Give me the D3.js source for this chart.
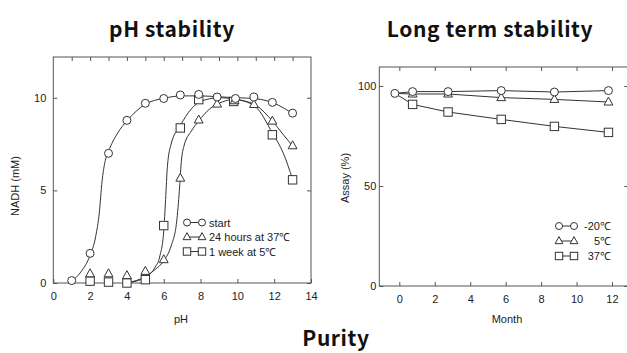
<!DOCTYPE html>
<html><head><meta charset="utf-8">
<script src="https://cdn.jsdelivr.net/npm/d3@7"></script>
<style>
body{margin:0;background:#fff;}
svg{display:block;}
.ax{font-family:"Liberation Sans",Arial,sans-serif;font-size:11px;fill:#222;}
.ttl{font-family:"Noto Sans CJK JP","Noto Sans",sans-serif;font-weight:bold;font-size:21px;letter-spacing:0.6px;fill:#111;}
</style></head>
<body>
<script>
// ---------- pH stability data ----------
const phStartX = [1, 2, 3, 4, 5, 6, 6.9, 7.9, 8.9, 9.9, 10.9, 11.9, 13];
const phStartY = [0.13, 1.6, 7.0, 8.78, 9.7, 9.96, 10.15, 10.18, 10.04, 9.96, 10.04, 9.75, 9.17];
const ph24hX = [2, 3, 4, 5, 6, 6.9, 7.9, 8.9, 9.85, 10.9, 11.9, 13];
const ph24hY = [0.5, 0.5, 0.4, 0.63, 1.26, 5.66, 8.8, 9.66, 9.84, 9.64, 8.74, 7.41];
const ph1wX = [2, 3, 4, 5, 6, 6.9, 7.9, 9.8, 11.9, 13];
const ph1wY = [0.1, 0.05, 0.0, 0.18, 3.1, 8.37, 9.9, 9.8, 8.0, 5.57];
// fitted curves as drawn in the picture
const curveStartX = [1, 1.5, 2, 2.3, 2.5, 2.65, 2.8, 3, 3.5, 4, 5, 6, 7, 8, 9, 10, 11, 12, 13];
const curveStartY = [0.1, 0.6, 1.5, 2.5, 3.8, 5.5, 6.5, 7.1, 8.1, 8.75, 9.65, 9.97, 10.1, 10.1, 10.05, 10.0, 9.95, 9.7, 9.15];
const curve24hX = [4, 5, 5.5, 6, 6.4, 6.7, 6.85, 6.95, 7.1, 7.5, 7.9, 8.5, 9, 9.8, 10.5, 11, 11.9, 12.5, 13];
const curve24hY = [0, 0.35, 0.7, 1.2, 2.0, 3.3, 5.0, 6.5, 7.4, 8.2, 8.75, 9.4, 9.7, 9.9, 9.8, 9.6, 8.75, 8.0, 7.4];
const curve1wX = [4, 4.5, 5, 5.5, 5.8, 6.0, 6.1, 6.2, 6.4, 6.9, 7.5, 8, 9, 10, 11, 11.9, 12.5, 13];
const curve1wY = [0, 0.1, 0.3, 0.8, 1.5, 2.8, 4.5, 6.3, 7.5, 8.5, 9.4, 9.8, 10.0, 9.9, 9.5, 8.1, 7.0, 5.6];
const phLegend = ["start", "24 hours at 37\u2103", "1 week at 5\u2103"];
const phXTicks = [0, 2, 4, 6, 8, 10, 12, 14];
const phYTicks = [0, 5, 10];

// ---------- Long term stability data ----------
const months = [-0.25, 0.75, 2.75, 5.75, 8.75, 11.8];
const assayM20 = [96.3, 97.2, 97.2, 97.7, 97.0, 97.7];
const assay5 = [96.3, 96.0, 96.0, 94.2, 93.3, 92.0];
const assay37 = [96.3, 90.8, 87.0, 83.3, 79.8, 76.8];
const ltLegend = ["-20\u2103", "5\u2103", "37\u2103"];
const ltXTicks = [0, 2, 4, 6, 8, 10, 12];
const ltYTicks = [0, 50, 100];

const titles = ["pH stability", "Long term stability", "Purity"];

const W = 627, H = 353;
const svg = d3.select("body").append("svg").attr("width", W).attr("height", H);
const lineCol = "#333", frameCol = "#555";

function marker(g, type, cx, cy, s) {
  if (type === "circle") {
    g.append("circle").attr("cx", cx).attr("cy", cy).attr("r", s)
      .attr("fill", "#fff").attr("stroke", lineCol).attr("stroke-width", 1);
  } else if (type === "square") {
    g.append("rect").attr("x", cx - s).attr("y", cy - s).attr("width", 2 * s).attr("height", 2 * s)
      .attr("fill", "#fff").attr("stroke", lineCol).attr("stroke-width", 1);
  } else {
    const h = s * 1.9;
    g.append("path").attr("d", `M${cx},${cy - h * 0.62}L${cx + s * 1.05},${cy + h * 0.38}L${cx - s * 1.05},${cy + h * 0.38}Z`)
      .attr("fill", "#fff").attr("stroke", lineCol).attr("stroke-width", 1);
  }
}

// ================= pH stability =================
{
  const x = d3.scaleLinear().domain([0, 14]).range([53.3, 311]);
  const y = d3.scaleLinear().domain([0, 12.2]).range([283, 57]);
  const g = svg.append("g");
  g.append("rect").attr("x", x(0)).attr("y", y(12.2)).attr("width", x(14) - x(0)).attr("height", y(0) - y(12.2))
    .attr("fill", "none").attr("stroke", frameCol).attr("stroke-width", 1);
  const bottom = d3.axisBottom(x).tickValues(phXTicks).tickSizeInner(-4).tickSizeOuter(0).tickPadding(9);
  const ab = g.append("g").attr("transform", `translate(0,${y(0)})`).call(bottom);
  const left = d3.axisLeft(y).tickValues(phYTicks).tickSizeInner(-4).tickSizeOuter(0).tickPadding(7);
  const al = g.append("g").attr("transform", `translate(${x(0)},0)`).call(left);
  const top = d3.axisTop(x).tickValues(d3.range(1, 14)).tickSizeInner(-4).tickSizeOuter(0).tickFormat("");
  const at = g.append("g").attr("transform", `translate(0,${y(12.2)})`).call(top);
  const right = d3.axisRight(y).tickValues(phYTicks).tickSizeInner(-4).tickSizeOuter(0).tickFormat("");
  const ar = g.append("g").attr("transform", `translate(${x(14)},0)`).call(right);
  [ab, al, at, ar].forEach(a => {
    a.select(".domain").remove();
    a.selectAll("line").attr("stroke", frameCol);
    a.selectAll("text").attr("class", "ax").attr("font-family", null).attr("font-size", null).attr("fill", "#222");
  });
  g.append("text").attr("class", "ax").attr("x", 181).attr("y", 323).attr("text-anchor", "middle").text("pH");
  g.append("text").attr("class", "ax").attr("transform", "translate(19,186) rotate(-90)").attr("text-anchor", "middle").text("NADH (mM)");

  const ln = d3.line().x(d => x(d[0])).y(d => y(d[1])).curve(d3.curveMonotoneX);
  const curves = [[curveStartX, curveStartY], [curve24hX, curve24hY], [curve1wX, curve1wY]];
  curves.forEach(([cx, cy]) => {
    g.append("path").attr("d", ln(cx.map((v, i) => [v, cy[i]])))
      .attr("fill", "none").attr("stroke", lineCol).attr("stroke-width", 1);
  });
  const ms = g.append("g");
  ph1wX.forEach((v, i) => marker(ms, "square", x(v), y(ph1wY[i]), 4.2));
  ph24hX.forEach((v, i) => marker(ms, "triangle", x(v), y(ph24hY[i]), 4.2));
  phStartX.forEach((v, i) => marker(ms, "circle", x(v), y(phStartY[i]), 4));

  const types = ["circle", "triangle", "square"];
  const lg = g.append("g");
  phLegend.forEach((t, i) => {
    const yy = 222.5 + i * 14.5;
    lg.append("line").attr("x1", 187).attr("x2", 202).attr("y1", yy).attr("y2", yy).attr("stroke", lineCol);
    marker(lg, types[i], 187, yy, types[i] === "circle" ? 3.5 : 3.7);
    marker(lg, types[i], 202, yy, types[i] === "circle" ? 3.5 : 3.7);
    lg.append("text").attr("class", "ax").attr("x", 209).attr("y", yy + 4).text(t);
  });
}

// ================= Long term stability =================
{
  const x = d3.scaleLinear().domain([-1.13, 12.92]).range([379.3, 628.3]);
  const y = d3.scaleLinear().domain([0, 109.5]).range([286, 67]);
  const g = svg.append("g");
  g.append("rect").attr("x", x(-1.13)).attr("y", y(109.5)).attr("width", x(12.92) - x(-1.13)).attr("height", y(0) - y(109.5))
    .attr("fill", "none").attr("stroke", frameCol).attr("stroke-width", 1);
  const bottom = d3.axisBottom(x).tickValues(ltXTicks).tickSizeInner(-4).tickSizeOuter(0).tickPadding(9);
  const ab = g.append("g").attr("transform", `translate(0,${y(0)})`).call(bottom);
  const left = d3.axisLeft(y).tickValues(ltYTicks).tickSizeInner(-4).tickSizeOuter(0).tickPadding(3);
  const al = g.append("g").attr("transform", `translate(${x(-1.13)},0)`).call(left);
  const top = d3.axisTop(x).tickValues(ltXTicks).tickSizeInner(-4).tickSizeOuter(0).tickFormat("");
  const at = g.append("g").attr("transform", `translate(0,${y(109.5)})`).call(top);
  const right = d3.axisRight(y).tickValues(ltYTicks).tickSizeInner(-4).tickSizeOuter(0).tickFormat("");
  const ar = g.append("g").attr("transform", `translate(${x(12.92)},0)`).call(right);
  [ab, al, at, ar].forEach(a => {
    a.select(".domain").remove();
    a.selectAll("line").attr("stroke", frameCol);
    a.selectAll("text").attr("class", "ax").attr("font-family", null).attr("font-size", null).attr("fill", "#222");
  });
  g.append("text").attr("class", "ax").attr("x", 507).attr("y", 323).attr("text-anchor", "middle").text("Month");
  g.append("text").attr("class", "ax").attr("transform", "translate(349,178) rotate(-90)").attr("text-anchor", "middle").text("Assay (%)");

  const ln = d3.line().x(d => x(d[0])).y(d => y(d[1]));
  const series = [[assayM20, "circle"], [assay5, "triangle"], [assay37, "square"]];
  series.forEach(([vals]) => {
    g.append("path").attr("d", ln(months.map((m, i) => [m, vals[i]])))
      .attr("fill", "none").attr("stroke", lineCol).attr("stroke-width", 1);
  });
  const ms = g.append("g");
  [series[2], series[1], series[0]].forEach(([vals, type]) => {
    months.forEach((m, i) => {
      if (i === 0 && type !== "circle") return;
      marker(ms, type, x(m), y(vals[i]), type === "circle" ? 4 : 4.2);
    });
  });
  const lg = g.append("g");
  ltLegend.forEach((t, i) => {
    const yy = 226 + i * 15;
    const type = series[i][1];
    lg.append("line").attr("x1", 559).attr("x2", 574).attr("y1", yy).attr("y2", yy).attr("stroke", lineCol);
    marker(lg, type, 559, yy, type === "circle" ? 3.5 : 3.7);
    marker(lg, type, 574, yy, type === "circle" ? 3.5 : 3.7);
    lg.append("text").attr("class", "ax").attr("x", 611).attr("y", yy + 4).attr("text-anchor", "end").text(t);
  });
}

// ================= Titles =================
svg.append("text").attr("class", "ttl").attr("x", 172).attr("y", 37).attr("text-anchor", "middle").text(titles[0]);
svg.append("text").attr("class", "ttl").attr("x", 490).attr("y", 37).attr("text-anchor", "middle").text(titles[1]);
svg.append("text").attr("class", "ttl").attr("x", 336).attr("y", 346).attr("text-anchor", "middle").text(titles[2]);
</script>
</body></html>
